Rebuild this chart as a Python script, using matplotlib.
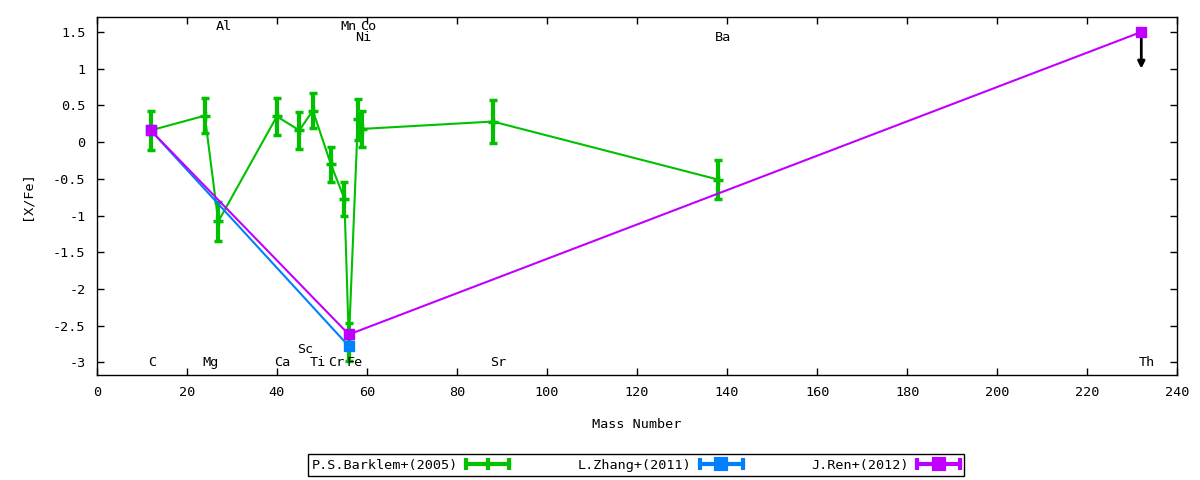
import numpy as np
import matplotlib
matplotlib.use("Agg")
import matplotlib.pyplot as plt
from matplotlib.lines import Line2D
from matplotlib.legend_handler import HandlerLine2D, HandlerTuple
from matplotlib.ticker import FuncFormatter, MultipleLocator

#######################################
# DATA

# P.S.Barklem+(2005)
barklem_mass = [12, 24, 27, 40, 45, 48, 52, 55, 56, 58, 59, 88, 138]
barklem_xfe = [0.16, 0.36, -1.08, 0.35, 0.16, 0.43, -0.30, -0.77, -2.72, 0.31, 0.18, 0.28, -0.51]
barklem_err = [0.27, 0.24, 0.26, 0.25, 0.25, 0.24, 0.24, 0.23, 0.26, 0.28, 0.24, 0.29, 0.26]

# L.Zhang+(2011)
zhang_mass = [12, 56]
zhang_xfe = [0.16, -2.78]
zhang_err = [0.0, 0.0]

# J.Ren+(2012)
ren_mass = [12, 56, 232]
ren_xfe = [0.16, -2.62, 1.5]
ren_err = [0.0, 0.0, 0.0]

# Th is an upper limit
th_limit = (232, 1.5, 1.0)

# element labels: name, label x, label y
elements = ["C", "Mg", "Al", "Ca", "Sc", "Ti", "Cr", "Mn", "Fe", "Co", "Ni", "Sr", "Ba", "Th"]
element_x = [11.4, 23.4, 26.4, 39.4, 44.4, 47.4, 51.4, 54.2, 55.4, 58.6, 57.4, 87.4, 137.4, 231.4]
element_y = [-3.0, -3.0, 1.57, -3.0, -2.82, -3.0, -3.0, 1.57, -3.0, 1.57, 1.43, -3.0, 1.43, -3.0]

#######################################
# STYLE

plt.rcParams['font.family'] = ['DejaVu Sans Mono']
plt.rcParams['font.size'] = 9.7

green = '#00c000'
blue = '#0080ff'
purple = '#c000ff'

#######################################
# PLOT

fig = plt.figure(figsize=(12, 4.8), dpi=100)
ax = fig.add_axes([0.0806, 0.219, 0.9005, 0.745])

ax.errorbar(barklem_mass, barklem_xfe, yerr=barklem_err, color=green, lw=1.5,
            elinewidth=3, capsize=3, capthick=3, marker='+', markersize=7, mew=2.5, zorder=2)
ax.errorbar(zhang_mass, zhang_xfe, yerr=zhang_err, color=blue, lw=1.5,
            elinewidth=3, capsize=3, capthick=3, marker='s', markersize=7, zorder=3)
ax.errorbar(ren_mass, ren_xfe, yerr=ren_err, color=purple, lw=1.5,
            elinewidth=3, capsize=3, capthick=3, marker='s', markersize=7, zorder=4)

ax.annotate("", xy=(th_limit[0], th_limit[2]), xytext=(th_limit[0], th_limit[1]),
            arrowprops=dict(arrowstyle='-|>', color='black', lw=2, mutation_scale=10,
                            shrinkA=0, shrinkB=0), zorder=3)

for name, x, y in zip(elements, element_x, element_y):
    ax.text(x, y, name, ha='left', va='center')

ax.set_xlim(0, 240)
ax.set_ylim(-3.17, 1.70)
ax.xaxis.set_major_locator(MultipleLocator(20))
ax.yaxis.set_major_locator(MultipleLocator(0.5))
ax.yaxis.set_major_formatter(FuncFormatter(lambda v, p: '%g' % v))
ax.tick_params(direction='in', length=5, width=1, top=True, right=True, pad=8)
for s in ax.spines.values():
    s.set_linewidth(1)

ax.set_xlabel("Mass Number", labelpad=14)
ax.set_ylabel("[X/Fe]", labelpad=14)

# gnuplot-like legend: text, then a sample with caps and a point
labels = ["P.S.Barklem+(2005)", "L.Zhang+(2011)", "J.Ren+(2012)"]
colors = [green, blue, purple]
markers = ['+', 's', 's']
handles = []
hmap = {}
for c, mk in zip(colors, markers):
    caps = Line2D([], [], color=c, lw=3, marker='|', markersize=8, mew=3)
    pt = Line2D([], [], color=c, ls='none', marker=mk, markersize=7 if mk == 's' else 8, mew=3)
    hmap[caps] = HandlerLine2D(numpoints=2, marker_pad=0)
    handles.append((caps, pt))
hmap[tuple] = HandlerTuple(ndivide=1)

leg = fig.legend(handles, labels, loc='center', bbox_to_anchor=(636 / 1200, 1 - 465 / 480),
                 ncol=3, markerfirst=False, handler_map=hmap, handlelength=3.2,
                 handletextpad=0.6, columnspacing=5.1, fancybox=False, framealpha=1,
                 edgecolor='black', borderpad=0.3)
leg.get_frame().set_linewidth(1)

plt.savefig("out.png", dpi=100)
